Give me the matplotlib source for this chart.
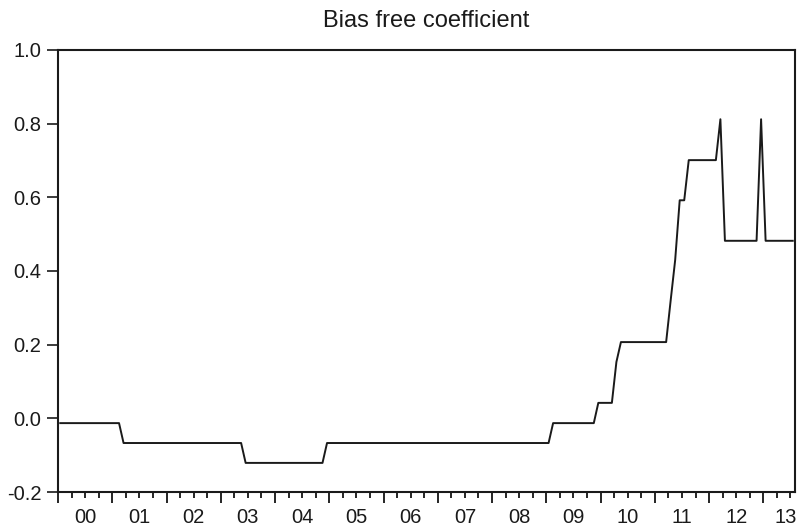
import numpy as np
import matplotlib
matplotlib.use("Agg")
import matplotlib.pyplot as plt
from matplotlib.ticker import FormatStrFormatter

plt.rcParams['font.family'] = ['Liberation Sans', 'DejaVu Sans']
plt.rcParams['axes.unicode_minus'] = False

# monthly series 2000M01 - 2013M07, read as levels and how many months each lasts
levels = [-0.013, -0.067, -0.121, -0.067, -0.013, 0.042, 0.153, 0.207,
          0.32, 0.43, 0.592, 0.701, 0.812, 0.482, 0.812, 0.482]
months = [14, 27, 18, 50, 10, 4, 1, 11,
          1, 1, 2, 7, 1, 8, 1, 7]
year_labels = ['00', '01', '02', '03', '04', '05', '06', '07',
               '08', '09', '10', '11', '12', '13']
y_ticks = [-0.2, 0.0, 0.2, 0.4, 0.6, 0.8, 1.0]

values = np.repeat(levels, months)
n = len(values)
# each observation sits in the middle of its month
x = 2000 + (np.arange(n) + 0.5) / 12.0
x_end = 2000 + n / 12.0

fig = plt.figure(figsize=(7.97, 5.28), dpi=100)
ax = fig.add_axes([58 / 797, 1 - 492 / 528, (795 - 58) / 797, (492 - 50) / 528])

ax.plot(x, values, color='#1a1a1a', lw=1.4)

ax.set_xlim(2000, x_end)
ax.set_ylim(-0.2, 1.0)

# y axis
ax.set_yticks(y_ticks)
ax.yaxis.set_major_formatter(FormatStrFormatter('%.1f'))
ax.tick_params(axis='y', direction='out', length=8, width=1.2, pad=4,
               labelsize=14.5, colors='#1a1a1a')

# x axis: long ticks at year starts, short ticks at quarters
years = np.arange(2000, 2014)
ax.set_xticks(years)
ax.set_xticklabels([])
quarters = [y + q / 4.0 for y in years for q in (1, 2, 3) if y + q / 4.0 < x_end]
ax.set_xticks(quarters, minor=True)
ax.tick_params(axis='x', which='major', direction='out', length=8, width=1.2)
ax.tick_params(axis='x', which='minor', direction='out', length=4.5, width=1.2)

# year labels centred in each year, the last one pushed in to fit
for i, lab in enumerate(year_labels):
    xpos = years[i] + 0.5
    if xpos > x_end - 0.18:
        xpos = x_end - 0.18
    ax.text(xpos, -0.071, lab, transform=ax.get_xaxis_transform(),
            ha='center', va='baseline', fontsize=14.5, color='#1a1a1a')

for s in ax.spines.values():
    s.set_linewidth(1.5)
    s.set_color('#1a1a1a')

ax.set_title('Bias free coefficient', fontsize=17, pad=16.5, color='#1a1a1a')

fig.savefig('out.png', dpi=100)
